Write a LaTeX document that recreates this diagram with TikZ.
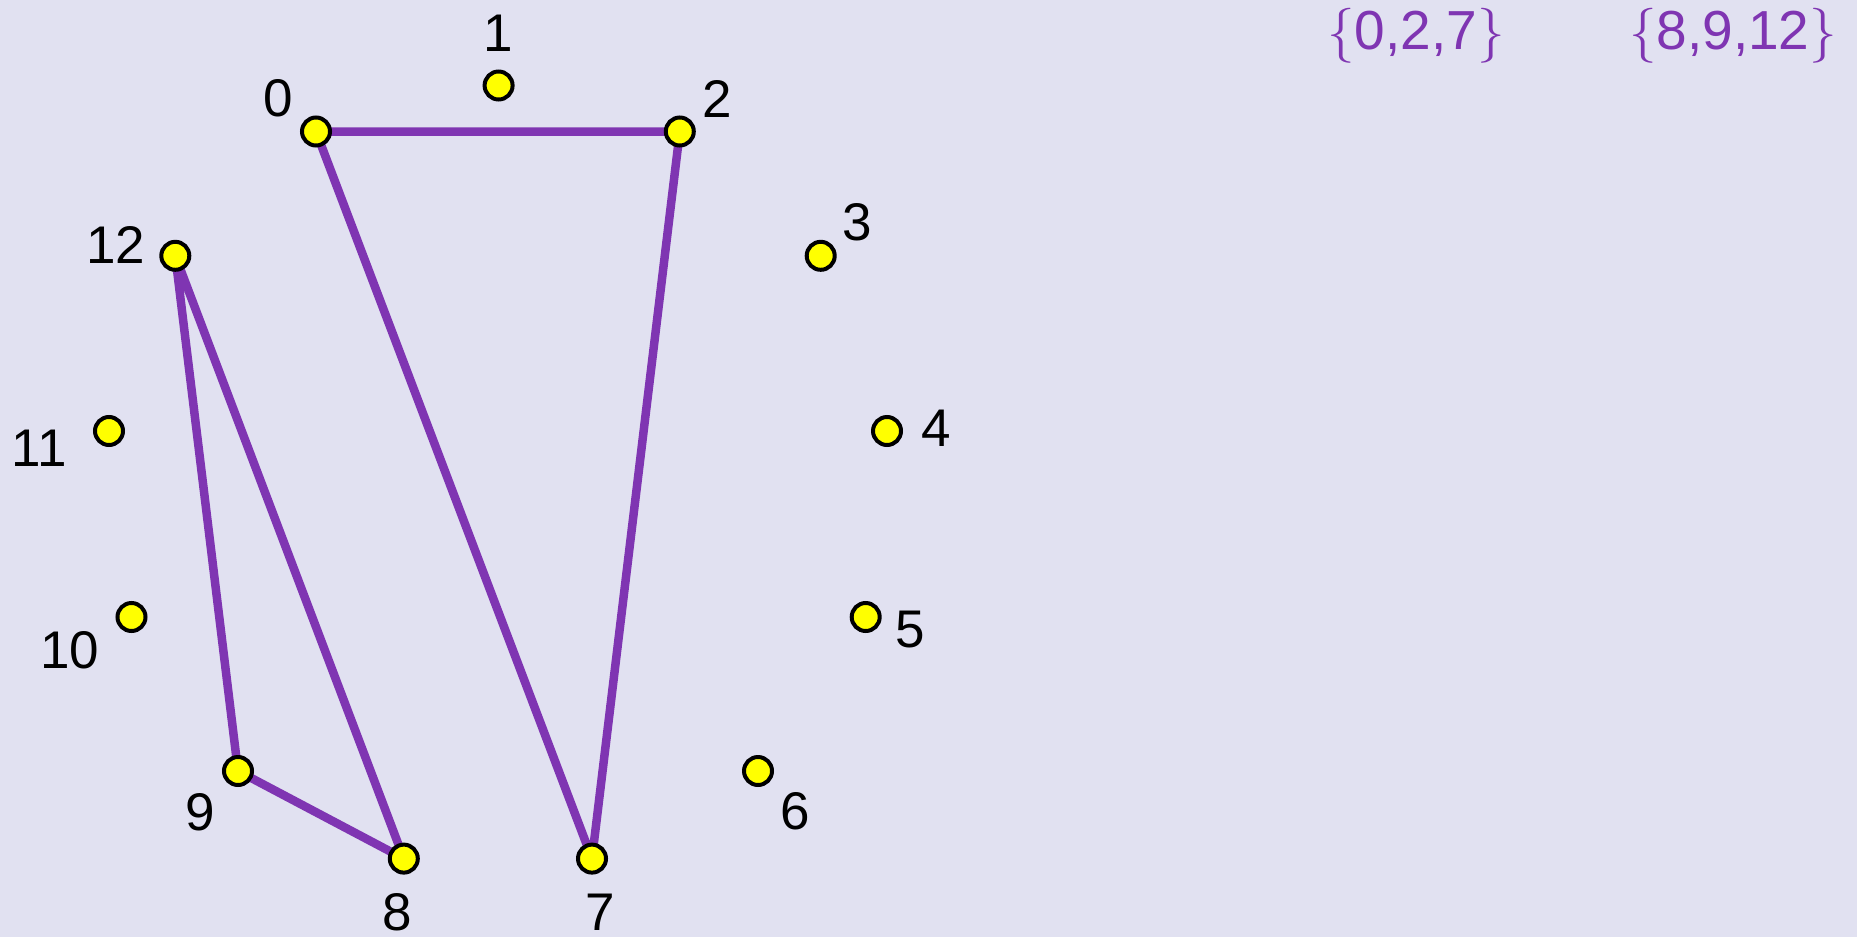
\documentclass[tikz,border=0pt]{standalone}
\usepackage{fontspec}
\setmainfont{Liberation Sans}
\newfontfamily\lmbrace{Latin Modern Roman}
\usetikzlibrary{backgrounds}
\definecolor{bg}{HTML}{E1E1F1}
\definecolor{edgec}{HTML}{7F35B2}
\definecolor{pt}{HTML}{FFFF00}
\newcommand{\lb}{{\lmbrace\{}}
\newcommand{\rb}{{\lmbrace\}}}
\tikzset{
  vtx/.style={circle,fill=pt,draw=black,line width=4pt,minimum size=28pt,inner sep=0pt},
  lbl/.style={font=\fontsize{53}{60}\selectfont,text=black,inner sep=0pt},
  setl/.style={font=\fontsize{55}{62}\selectfont,text=edgec,inner sep=0pt},
  edg/.style={draw=edgec,line width=8.5pt,line join=round}
}
\begin{document}
\begin{tikzpicture}[x=1pt,y=-1pt]
\begin{pgfonlayer}{background}
\fill[bg] (0,0) rectangle (1857,937);
\end{pgfonlayer}
\useasboundingbox (0,0) rectangle (1857,937);
\node[vtx] (n0) at (316,131.5) {};
\node[vtx] (n1) at (498.6,85.5) {};
\node[vtx] (n2) at (679.8,131.5) {};
\node[vtx] (n3) at (820.7,255.8) {};
\node[vtx] (n4) at (887,431) {};
\node[vtx] (n5) at (865.7,617) {};
\node[vtx] (n6) at (758,771) {};
\node[vtx] (n7) at (592,858.6) {};
\node[vtx] (n8) at (403.8,858.6) {};
\node[vtx] (n9) at (238,771) {};
\node[vtx] (n10) at (131.5,617) {};
\node[vtx] (n11) at (109,431) {};
\node[vtx] (n12) at (175.3,255.8) {};
\node[lbl] (l0) at (278,98) {0};
\node[lbl] (l1) at (498,33) {1};
\node[lbl] (l2) at (717,99) {2};
\node[lbl] (l3) at (857,222) {3};
\node[lbl] (l4) at (936,428) {4};
\node[lbl] (l5) at (910,630) {5};
\node[lbl] (l6) at (795,811) {6};
\node[lbl] (l7) at (600,912) {7};
\node[lbl] (l8) at (397,912) {8};
\node[lbl] (l9) at (200,812) {9};
\node[lbl] (l10) at (70,650) {10};
\node[lbl] (l11) at (39,448) {11};
\node[lbl] (l12) at (116,245) {12};
\node[setl] (s1) at (1416,36) {\lb0,2,7\rb};
\node[setl] (s2) at (1733,36) {\lb8,9,12\rb};
\begin{pgfonlayer}{background}
\draw[edg] (n0.center) -- (n2.center) -- (n7.center) -- cycle;
\draw[edg] (n8.center) -- (n9.center) -- (n12.center) -- cycle;
\end{pgfonlayer}
\end{tikzpicture}
\end{document}
